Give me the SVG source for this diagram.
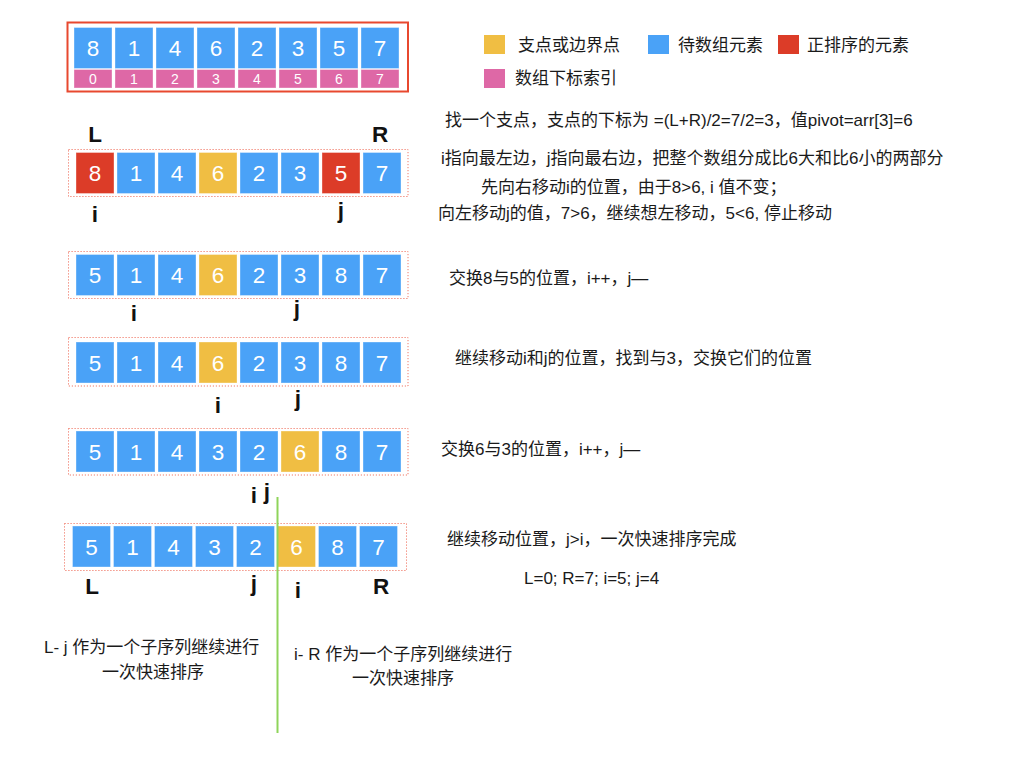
<svg xmlns="http://www.w3.org/2000/svg" width="1024" height="768" viewBox="0 0 1024 768">
<style>
text{font-family:"Liberation Sans","Noto Sans CJK SC",sans-serif;fill:#1a1a1a}
.c{stroke:#ffffff;stroke-opacity:0.35;stroke-width:1}
.b{fill:#4aa2f7}
.y{fill:#f0be43}
.r{fill:#dc3c28}
.p{fill:#de68a6}
.n{font-size:22.5px;fill:#ffffff;text-anchor:middle}
.ix{font-size:14px;fill:#ffffff;text-anchor:middle}
.lb{font-size:22.5px;font-weight:bold;fill:#111;text-anchor:middle}
.t{font-size:17px}
.box{fill:none;stroke:#f07a68;stroke-width:1;stroke-dasharray:1.2 1.8}
</style>
<rect width="1024" height="768" fill="#ffffff"/>

<g id="array-index">
<rect x="67.5" y="22.5" width="340.5" height="69" fill="none" stroke="#e8482f" stroke-width="2"/>
<rect class="c b" x="74" y="27.5" width="38" height="41"/><rect class="c b" x="115" y="27.5" width="38" height="41"/><rect class="c b" x="156" y="27.5" width="38" height="41"/><rect class="c b" x="197" y="27.5" width="38" height="41"/><rect class="c b" x="238" y="27.5" width="38" height="41"/><rect class="c b" x="279" y="27.5" width="38" height="41"/><rect class="c b" x="320" y="27.5" width="38" height="41"/><rect class="c b" x="361" y="27.5" width="38" height="41"/>
<rect class="c p" x="74" y="69.5" width="38" height="18.5"/><rect class="c p" x="115" y="69.5" width="38" height="18.5"/><rect class="c p" x="156" y="69.5" width="38" height="18.5"/><rect class="c p" x="197" y="69.5" width="38" height="18.5"/><rect class="c p" x="238" y="69.5" width="38" height="18.5"/><rect class="c p" x="279" y="69.5" width="38" height="18.5"/><rect class="c p" x="320" y="69.5" width="38" height="18.5"/><rect class="c p" x="361" y="69.5" width="38" height="18.5"/>
<text class="n" x="93" y="56">8</text><text class="n" x="134" y="56">1</text><text class="n" x="175" y="56">4</text><text class="n" x="216" y="56">6</text><text class="n" x="257" y="56">2</text><text class="n" x="298" y="56">3</text><text class="n" x="339" y="56">5</text><text class="n" x="380" y="56">7</text>
<text class="ix" x="93" y="84">0</text><text class="ix" x="134" y="84">1</text><text class="ix" x="175" y="84">2</text><text class="ix" x="216" y="84">3</text><text class="ix" x="257" y="84">4</text><text class="ix" x="298" y="84">5</text><text class="ix" x="339" y="84">6</text><text class="ix" x="380" y="84">7</text>
</g>

<g id="legend">
<rect class="y" x="484" y="35" width="21" height="19"/><text class="t" x="518" y="51">支点或边界点</text>
<rect class="b" x="648" y="35" width="21" height="19"/><text class="t" x="678" y="51">待数组元素</text>
<rect class="r" x="778" y="35" width="21" height="19"/><text class="t" x="807" y="51">正排序的元素</text>
<rect class="p" x="484" y="69" width="21" height="19"/><text class="t" x="515" y="84">数组下标索引</text>
</g>

<g id="row1">
<rect class="box" x="68.5" y="149.5" width="339.5" height="47"/>
<rect class="c r" x="76" y="152.5" width="38" height="41"/><rect class="c b" x="117" y="152.5" width="38" height="41"/><rect class="c b" x="158" y="152.5" width="38" height="41"/><rect class="c y" x="199" y="152.5" width="38" height="41"/><rect class="c b" x="240" y="152.5" width="38" height="41"/><rect class="c b" x="281" y="152.5" width="38" height="41"/><rect class="c r" x="322" y="152.5" width="38" height="41"/><rect class="c b" x="363" y="152.5" width="38" height="41"/>
<text class="n" x="95" y="181">8</text><text class="n" x="136" y="181">1</text><text class="n" x="177" y="181">4</text><text class="n" x="218" y="181">6</text><text class="n" x="259" y="181">2</text><text class="n" x="300" y="181">3</text><text class="n" x="341" y="181">5</text><text class="n" x="382" y="181">7</text>
<text class="lb" x="95" y="142">L</text><text class="lb" x="380" y="142">R</text>
<text class="lb" x="95" y="222">i</text><text class="lb" x="341" y="218">j</text>
</g>

<g id="row2">
<rect class="box" x="68.5" y="251.5" width="339.5" height="47"/>
<rect class="c b" x="76" y="254.5" width="38" height="41"/><rect class="c b" x="117" y="254.5" width="38" height="41"/><rect class="c b" x="158" y="254.5" width="38" height="41"/><rect class="c y" x="199" y="254.5" width="38" height="41"/><rect class="c b" x="240" y="254.5" width="38" height="41"/><rect class="c b" x="281" y="254.5" width="38" height="41"/><rect class="c b" x="322" y="254.5" width="38" height="41"/><rect class="c b" x="363" y="254.5" width="38" height="41"/>
<text class="n" x="95" y="283">5</text><text class="n" x="136" y="283">1</text><text class="n" x="177" y="283">4</text><text class="n" x="218" y="283">6</text><text class="n" x="259" y="283">2</text><text class="n" x="300" y="283">3</text><text class="n" x="341" y="283">8</text><text class="n" x="382" y="283">7</text>
<text class="lb" x="134" y="321">i</text><text class="lb" x="297" y="316">j</text>
</g>

<g id="row3">
<rect class="box" x="68.5" y="337.5" width="339.5" height="48.5"/>
<rect class="c b" x="76" y="342" width="38" height="41"/><rect class="c b" x="117" y="342" width="38" height="41"/><rect class="c b" x="158" y="342" width="38" height="41"/><rect class="c y" x="199" y="342" width="38" height="41"/><rect class="c b" x="240" y="342" width="38" height="41"/><rect class="c b" x="281" y="342" width="38" height="41"/><rect class="c b" x="322" y="342" width="38" height="41"/><rect class="c b" x="363" y="342" width="38" height="41"/>
<text class="n" x="95" y="370.5">5</text><text class="n" x="136" y="370.5">1</text><text class="n" x="177" y="370.5">4</text><text class="n" x="218" y="370.5">6</text><text class="n" x="259" y="370.5">2</text><text class="n" x="300" y="370.5">3</text><text class="n" x="341" y="370.5">8</text><text class="n" x="382" y="370.5">7</text>
<text class="lb" x="218" y="413">i</text><text class="lb" x="298" y="406">j</text>
</g>

<g id="row4">
<rect class="box" x="68.5" y="428.5" width="339.5" height="46.5"/>
<rect class="c b" x="76" y="431" width="38" height="41"/><rect class="c b" x="117" y="431" width="38" height="41"/><rect class="c b" x="158" y="431" width="38" height="41"/><rect class="c b" x="199" y="431" width="38" height="41"/><rect class="c b" x="240" y="431" width="38" height="41"/><rect class="c y" x="281" y="431" width="38" height="41"/><rect class="c b" x="322" y="431" width="38" height="41"/><rect class="c b" x="363" y="431" width="38" height="41"/>
<text class="n" x="95" y="459.5">5</text><text class="n" x="136" y="459.5">1</text><text class="n" x="177" y="459.5">4</text><text class="n" x="218" y="459.5">3</text><text class="n" x="259" y="459.5">2</text><text class="n" x="300" y="459.5">6</text><text class="n" x="341" y="459.5">8</text><text class="n" x="382" y="459.5">7</text>
<text class="lb" x="254" y="503">i</text><text class="lb" x="267" y="499">j</text>
</g>

<g id="row5">
<rect class="box" x="64.5" y="523.5" width="342" height="47"/>
<rect class="c b" x="72.5" y="526" width="38" height="41"/><rect class="c b" x="113.5" y="526" width="38" height="41"/><rect class="c b" x="154.5" y="526" width="38" height="41"/><rect class="c b" x="195.5" y="526" width="38" height="41"/><rect class="c b" x="236.5" y="526" width="38" height="41"/><rect class="c y" x="277.5" y="526" width="38" height="41"/><rect class="c b" x="318.5" y="526" width="38" height="41"/><rect class="c b" x="359.5" y="526" width="38" height="41"/>
<text class="n" x="91.5" y="554.5">5</text><text class="n" x="132.5" y="554.5">1</text><text class="n" x="173.5" y="554.5">4</text><text class="n" x="214.5" y="554.5">3</text><text class="n" x="255.5" y="554.5">2</text><text class="n" x="296.5" y="554.5">6</text><text class="n" x="337.5" y="554.5">8</text><text class="n" x="378.5" y="554.5">7</text>
<text class="lb" x="92" y="594">L</text><text class="lb" x="254" y="591">j</text><text class="lb" x="298" y="598">i</text><text class="lb" x="381" y="594">R</text>
</g>

<g id="connectors">
<line x1="277.5" y1="497" x2="277.5" y2="733" stroke="#8fd45a" stroke-width="2"/>
</g>

<g id="notes">
<text class="t" x="445" y="126">找一个支点，支点的下标为 =(L+R)/2=7/2=3，值pivot=arr[3]=6</text>
<text class="t" x="441" y="164">i指向最左边，j指向最右边，把整个数组分成比6大和比6小的两部分</text>
<text class="t" x="481" y="193">先向右移动i的位置，由于8&gt;6, i 值不变；</text>
<text class="t" x="438" y="219">向左移动j的值，7&gt;6，继续想左移动，5&lt;6, 停止移动</text>
<text class="t" x="449" y="284">交换8与5的位置，i++，j—</text>
<text class="t" x="455" y="364">继续移动i和j的位置，找到与3，交换它们的位置</text>
<text class="t" x="441" y="455">交换6与3的位置，i++，j—</text>
<text class="t" x="447" y="545">继续移动位置，j&gt;i，一次快速排序完成</text>
<text class="t" x="524" y="584">L=0; R=7; i=5; j=4</text>
<text class="t" x="44" y="653">L- j 作为一个子序列继续进行</text>
<text class="t" x="153" y="678" text-anchor="middle">一次快速排序</text>
<text class="t" x="294" y="660">i- R 作为一个子序列继续进行</text>
<text class="t" x="403" y="684" text-anchor="middle">一次快速排序</text>
</g>
</svg>
